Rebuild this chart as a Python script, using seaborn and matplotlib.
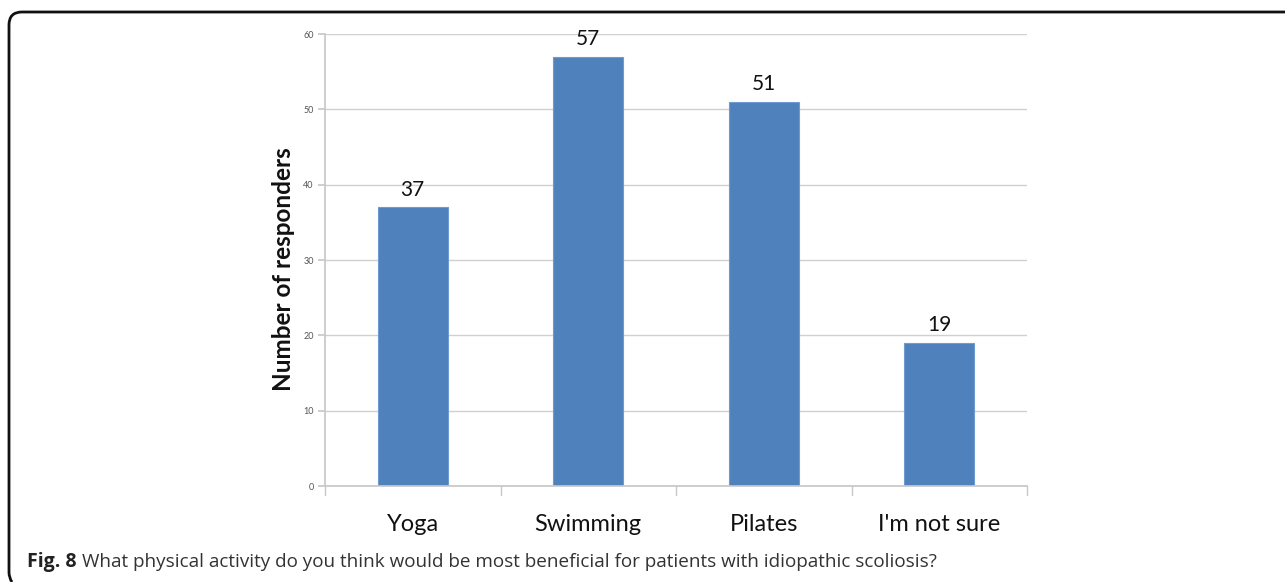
import matplotlib
matplotlib.use("Agg")
import matplotlib.pyplot as plt
import seaborn as sns
import pandas as pd
from matplotlib.path import Path
from matplotlib.patches import PathPatch

categories = ["Yoga", "Swimming", "Pilates", "I'm not sure"]
values = [37, 57, 51, 19]
y_ticks = [0, 10, 20, 30, 40, 50, 60]

sns.set_theme(style="white")
plt.rcParams['font.family'] = ['Lato', 'DejaVu Sans']

W, H = 1287, 582
fig = plt.figure(figsize=(W / 100, H / 100), dpi=100)
ax = fig.add_axes([325 / W, 1 - 486 / H, (1027 - 325) / W, (486 - 34) / H])

df = pd.DataFrame({"cat": categories, "val": values})
sns.barplot(data=df, x="cat", y="val", color="#4f81bd", saturation=1,
            width=0.4, ax=ax, edgecolor="#6f9bd1", linewidth=0.8)

ax.set_xlim(-0.5, len(categories) - 0.5)
ax.set_ylim(0, 60)
ax.set_yticks(y_ticks)
ax.set_yticklabels([str(t) for t in y_ticks], fontsize=6.5, color="#555555")
ax.yaxis.grid(True, color="#d0d0d0", linewidth=1)
ax.set_axisbelow(True)
for s in ["top", "right"]:
    ax.spines[s].set_visible(False)
ax.spines["left"].set_color("#c8c8c8")
ax.spines["bottom"].set_color("#c8c8c8")
ax.tick_params(axis="y", which="both", left=True, length=5, color="#c8c8c8", pad=3)
ax.set_xticks([i for i in range(len(categories))])
ax.set_xticklabels(categories, fontsize=17, color="#111111")
ax.tick_params(axis="x", length=0, pad=20)
# category boundary tick marks
for b in [x - 0.5 for x in range(len(categories) + 1)]:
    ax.plot([b, b], [0, -1.2], color="#c8c8c8", lw=1, clip_on=False)

ax.set_xlabel("")
ax.set_ylabel("Number of responders", fontsize=17.5, fontweight="bold",
              color="#111111")
ax.yaxis.set_label_coords(-0.043, 0.48)

for i, v in enumerate(values):
    ax.text(i, v + 1.0, str(v), ha="center", va="bottom", fontsize=15, color="#111111")

# frame
verts = [(1285 / W, 1 - 12 / H), (22 / W, 1 - 12 / H), (9 / W, 1 - 12 / H),
         (9 / W, 1 - 25 / H), (9 / W, 1 - 572 / H), (9 / W, 1 - 578 / H), (12 / W, 1 - 582 / H)]
codes = [Path.MOVETO, Path.LINETO, Path.CURVE3, Path.CURVE3, Path.LINETO, Path.CURVE3, Path.CURVE3]
fig.patches.append(PathPatch(Path(verts, codes), transform=fig.transFigure,
                             fill=False, edgecolor="#111111", lw=2))

fig.text(27 / W, 1 - 562 / H, "Fig. 8", fontsize=14, fontweight="bold", color="#222222",
         va="center", ha="left", family=["Open Sans", "DejaVu Sans"])
fig.text(82 / W, 1 - 562 / H,
         "What physical activity do you think would be most beneficial for patients with idiopathic scoliosis?",
         fontsize=13.6, va="center", ha="left", color="#333333", family=["Open Sans", "DejaVu Sans"])

fig.savefig("out.png", dpi=100)
